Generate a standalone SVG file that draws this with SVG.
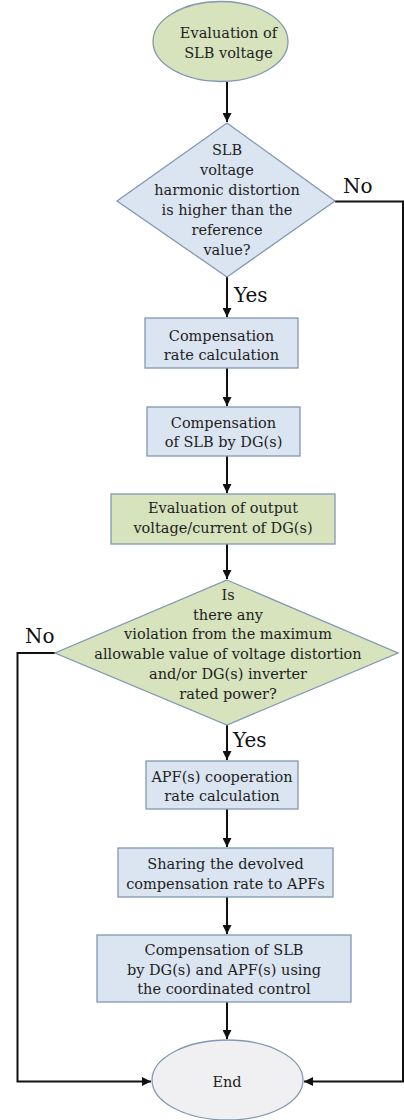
<svg xmlns="http://www.w3.org/2000/svg" width="404" height="1120" viewBox="0 0 404 1120">
<defs>
<marker id="arr" viewBox="0 0 10 10" refX="10" refY="5" markerWidth="4.5" markerHeight="4.5" markerUnits="strokeWidth" orient="auto">
<path d="M0,0 L10,5 L0,10 z" fill="#111"/>
</marker>
<style>
.t{font-family:"DejaVu Serif","Liberation Serif",serif;font-size:14.5px;fill:#1e1e1e;text-anchor:middle}
.lbl{font-family:"DejaVu Serif","Liberation Serif",serif;font-size:20px;fill:#111}
.blue{fill:#dbe5f1;stroke:#8497b0;stroke-width:1.3}
.green{fill:#d7e3bd;stroke:#8497b0;stroke-width:1.3}
.grey{fill:#f0f0f2;stroke:#8497b0;stroke-width:1.3}
.c{fill:none;stroke:#111;stroke-width:2}
</style>
</defs>
<rect width="404" height="1120" fill="#ffffff"/>

<g id="connectors">
<path class="c" d="M227,82 V122" marker-end="url(#arr)"/>
<path class="c" d="M227,277 V317" marker-end="url(#arr)"/>
<path class="c" d="M227,368 V406" marker-end="url(#arr)"/>
<path class="c" d="M227,456 V493" marker-end="url(#arr)"/>
<path class="c" d="M227,544 V579" marker-end="url(#arr)"/>
<path class="c" d="M227,725 V760" marker-end="url(#arr)"/>
<path class="c" d="M227,809 V847" marker-end="url(#arr)"/>
<path class="c" d="M227,897 V934" marker-end="url(#arr)"/>
<path class="c" d="M227,1002 V1039" marker-end="url(#arr)"/>
<path class="c" d="M335,201.5 H403 V1081.5 H304" marker-end="url(#arr)"/>
<path class="c" d="M55,653 H17.5 V1081.5 H151" marker-end="url(#arr)"/>
<text class="lbl" x="343" y="193">No</text>
<text class="lbl" x="25" y="643">No</text>
<text class="lbl" x="234" y="302">Yes</text>
<text class="lbl" x="233" y="747">Yes</text>
</g>

<g id="start">
<ellipse class="green" cx="220.5" cy="41.5" rx="67.5" ry="40"/>
<text class="t" x="228.5" y="38">Evaluation of</text>
<text class="t" x="228.5" y="58">SLB voltage</text>
</g>

<g id="decision1">
<polygon class="blue" points="227,123 335,201 227,277 117,201"/>
<text class="t" x="227" y="155">SLB</text>
<text class="t" x="227" y="175">voltage</text>
<text class="t" x="227" y="195">harmonic distortion</text>
<text class="t" x="227" y="215">is higher than the</text>
<text class="t" x="227" y="235">reference</text>
<text class="t" x="227" y="255">value?</text>
</g>

<g id="box1">
<rect class="blue" x="145" y="318" width="153" height="50"/>
<text class="t" x="221.5" y="341">Compensation</text>
<text class="t" x="221.5" y="360">rate calculation</text>
</g>

<g id="box2">
<rect class="blue" x="147" y="407" width="153" height="49"/>
<text class="t" x="223.5" y="428">Compensation</text>
<text class="t" x="223.5" y="447">of SLB by DG(s)</text>
</g>

<g id="box3">
<rect class="green" x="111" y="494" width="224" height="50"/>
<text class="t" x="223" y="513">Evaluation of output</text>
<text class="t" x="223" y="533">voltage/current of DG(s)</text>
</g>

<g id="decision2">
<polygon class="green" points="227,580 398,653 227,725 55,653"/>
<text class="t" x="228" y="600">Is</text>
<text class="t" x="228" y="620">there any</text>
<text class="t" x="228" y="639">violation from the maximum</text>
<text class="t" x="228" y="659">allowable value of voltage distortion</text>
<text class="t" x="228" y="679">and/or DG(s) inverter</text>
<text class="t" x="228" y="699">rated power?</text>
</g>

<g id="box4">
<rect class="blue" x="146" y="761" width="152" height="48"/>
<text class="t" x="222" y="782">APF(s) cooperation</text>
<text class="t" x="222" y="801">rate calculation</text>
</g>

<g id="box5">
<rect class="blue" x="118" y="848" width="215" height="49"/>
<text class="t" x="225.5" y="869">Sharing the devolved</text>
<text class="t" x="225.5" y="889">compensation rate to APFs</text>
</g>

<g id="box6">
<rect class="blue" x="97" y="935" width="254" height="67"/>
<text class="t" x="224" y="955">Compensation of SLB</text>
<text class="t" x="224" y="975">by DG(s) and APF(s) using</text>
<text class="t" x="224" y="994">the coordinated control</text>
</g>

<g id="end">
<ellipse class="grey" cx="227.5" cy="1080" rx="75.5" ry="40"/>
<text class="t" x="227" y="1087">End</text>
</g>
</svg>
